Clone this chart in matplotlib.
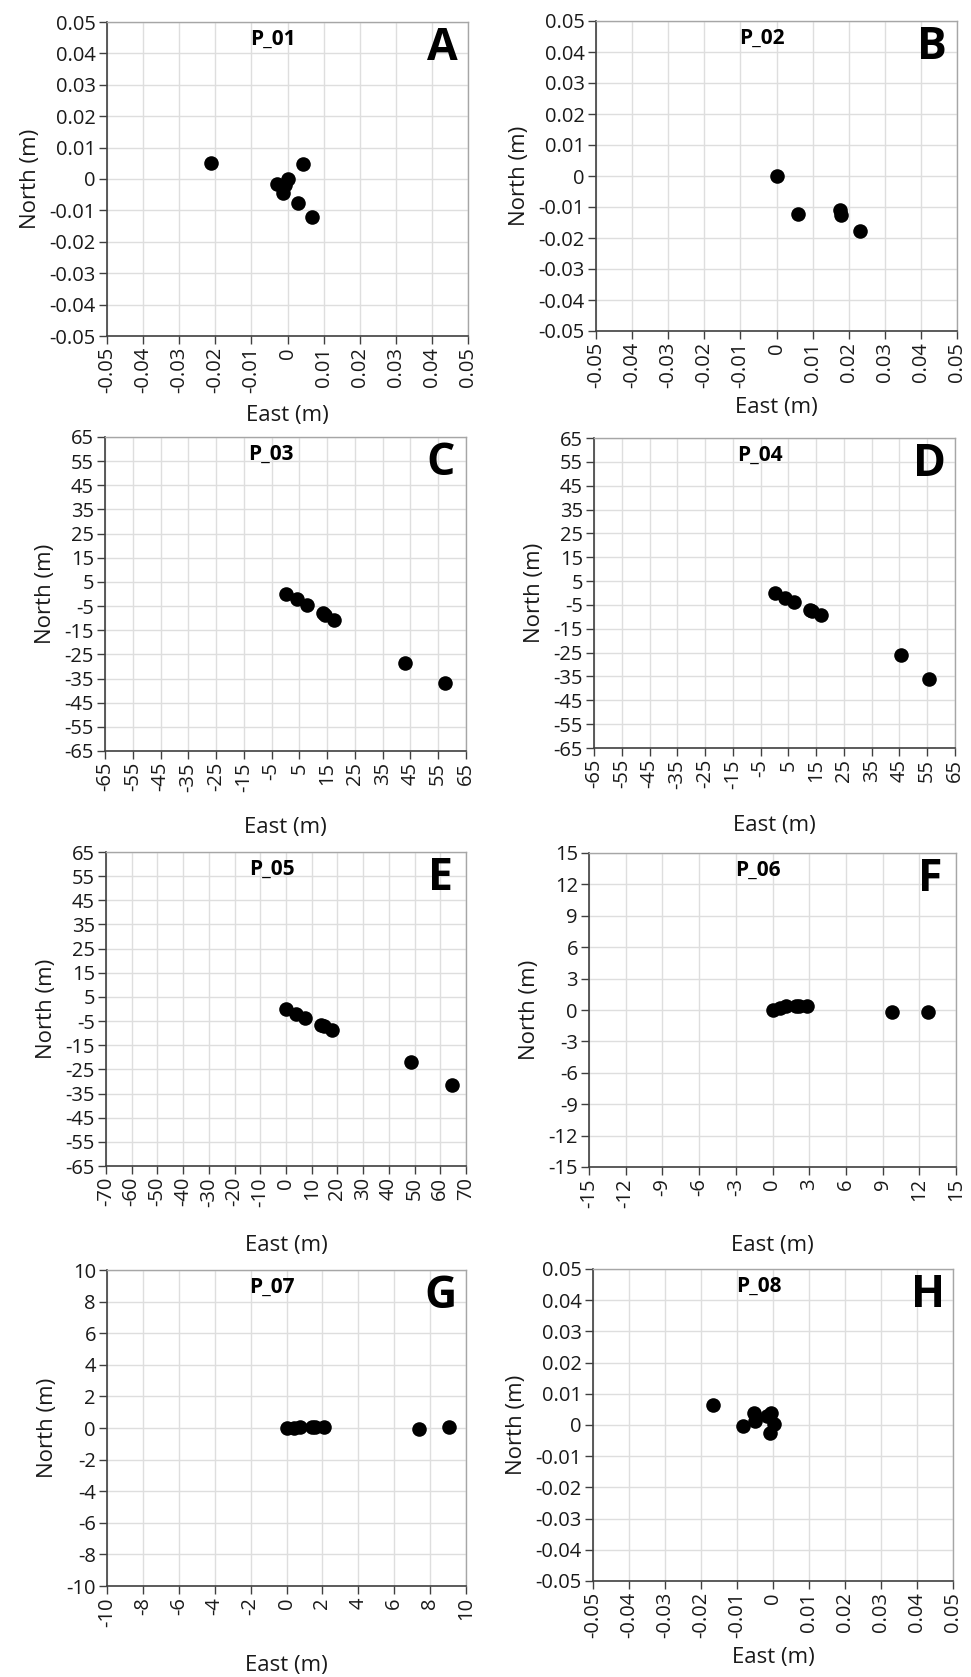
import numpy as np
import matplotlib
matplotlib.use("Agg")
import matplotlib.pyplot as plt

plt.rcParams['font.family'] = ['Open Sans', 'DejaVu Sans']

# panel names and letters
names = ['P_01', 'P_02', 'P_03', 'P_04', 'P_05', 'P_06', 'P_07', 'P_08']
letters = ['A', 'B', 'C', 'D', 'E', 'F', 'G', 'H']

# East / North offsets (m)
east_01 = [-0.0212, 0.0044, 0.0, -0.0030, -0.0008, -0.0013, 0.0028, 0.0069]
north_01 = [0.0051, 0.0049, 0.0, -0.0015, -0.0020, -0.0043, -0.0076, -0.0121]
east_02 = [0.0, 0.0059, 0.0177, 0.0178, 0.0230]
north_02 = [0.0, -0.0122, -0.0111, -0.0125, -0.0177]
east_03 = [0.0, 4.3, 7.9, 13.4, 14.3, 17.3, 43.2, 57.5]
north_03 = [0.0, -2.1, -4.4, -7.7, -8.6, -10.6, -28.4, -37.0]
east_04 = [0.0, 3.8, 7.2, 12.9, 13.6, 16.6, 45.6, 55.8]
north_04 = [0.0, -2.0, -3.9, -7.1, -7.6, -9.2, -25.8, -36.0]
east_05 = [0.0, 3.9, 7.5, 13.6, 14.8, 18.0, 48.5, 64.7]
north_05 = [0.0, -1.9, -3.8, -6.5, -7.1, -8.5, -22.1, -31.5]
east_06 = [0.0, 0.6, 1.1, 1.96, 2.2, 2.84, 9.76, 12.7]
north_06 = [0.0, 0.16, 0.35, 0.38, 0.38, 0.38, -0.16, -0.22]
east_07 = [0.0, 0.39, 0.76, 1.41, 1.58, 2.08, 7.38, 9.05]
north_07 = [0.0, 0.02, 0.04, 0.08, 0.04, 0.04, -0.06, 0.08]
east_08 = [-0.0166, -0.0083, -0.0052, -0.0051, -0.0017, -0.0006, 0.0003, -0.0007]
north_08 = [0.0065, -0.0003, 0.0038, 0.0014, 0.0029, 0.0040, 0.0002, -0.0026]

easts = [east_01, east_02, east_03, east_04, east_05, east_06, east_07, east_08]
norths = [north_01, north_02, north_03, north_04, north_05, north_06, north_07, north_08]

# axis ranges: (xmin, xmax, xstep, ymin, ymax, ystep)
ranges = [
    (-0.05, 0.05, 0.01, -0.05, 0.05, 0.01),
    (-0.05, 0.05, 0.01, -0.05, 0.05, 0.01),
    (-65, 65, 10, -65, 65, 10),
    (-65, 65, 10, -65, 65, 10),
    (-70, 70, 10, -65, 65, 10),
    (-15, 15, 3, -15, 15, 3),
    (-10, 10, 2, -10, 10, 2),
    (-0.05, 0.05, 0.01, -0.05, 0.05, 0.01),
]

# plot-area boxes in pixels: left, right, top, bottom, xlabel y
boxes = [
    (107, 468, 22, 336, 415),
    (596, 957, 21, 331, 407),
    (105, 466, 437, 751, 828),
    (594, 955, 438, 748, 825),
    (106, 466, 852, 1166, 1245),
    (589, 956, 853, 1167, 1245),
    (107, 466, 1270, 1586, 1665),
    (593, 953, 1269, 1581, 1657),
]

W, H = 971, 1677
fig = plt.figure(figsize=(W / 100, H / 100), dpi=100)


def fmt(v, step):
    if abs(v) < 1e-12:
        return '0'
    if step < 1:
        return '%.2f' % v
    return '%d' % round(v)


for i in range(8):
    l, r, t, b, xl = boxes[i]
    ax = fig.add_axes([l / W, 1 - b / H, (r - l) / W, (b - t) / H])
    x0, x1, xs, y0, y1, ys = ranges[i]
    ax.scatter(easts[i], norths[i], s=110, color='black', zorder=3, linewidths=0)
    ax.set_xlim(x0, x1)
    ax.set_ylim(y0, y1)
    xt = np.round(np.arange(x0, x1 + xs / 2, xs), 6)
    yt = np.round(np.arange(y0, y1 + ys / 2, ys), 6)
    ax.set_xticks(xt)
    ax.set_yticks(yt)
    ax.set_xticklabels([fmt(v, xs) for v in xt], rotation=90)
    ax.set_yticklabels([fmt(v, ys) for v in yt])
    ax.grid(True, color='#dedede', linewidth=1.0, zorder=0)
    ax.set_axisbelow(True)
    for side in ['top', 'right']:
        ax.spines[side].set_color('#a6a6a6')
        ax.spines[side].set_linewidth(1.0)
    for side in ['left', 'bottom']:
        ax.spines[side].set_color('#404040')
        ax.spines[side].set_linewidth(1.2)
    ax.tick_params(axis='both', direction='out', length=6, width=1.0,
                   color='#404040', labelsize=14.5, labelcolor='#1a1a1a', pad=2)
    ax.set_ylabel('North (m)', fontsize=16, color='#1a1a1a', labelpad=6)
    fig.text((l + r) / 2 / W, 1 - xl / H, 'East (m)', fontsize=16,
             color='#1a1a1a', ha='center', va='center')
    ax.text(0.46, 0.945, names[i], transform=ax.transAxes, fontsize=15,
            fontweight='bold', ha='center', va='center')
    ax.text(0.93, 0.915, letters[i], transform=ax.transAxes, fontsize=32,
            fontweight='bold', ha='center', va='center')

fig.savefig('out.png', dpi=100, facecolor='white')
